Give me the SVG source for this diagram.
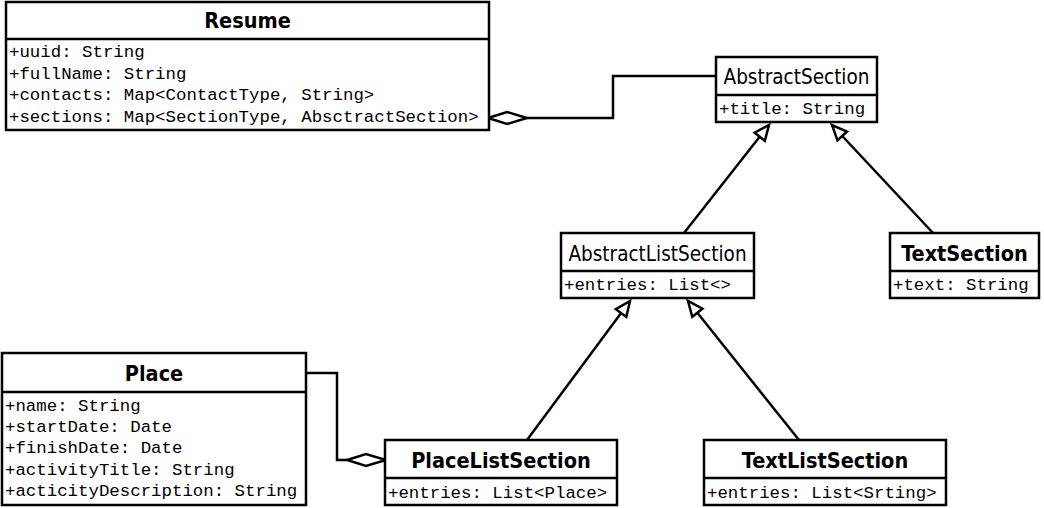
<svg xmlns="http://www.w3.org/2000/svg" width="1044" height="508" viewBox="0 0 1044 508">
<defs>
<style>
.box{fill:#fff;stroke:#000;stroke-width:2.5}
.div{stroke:#000;stroke-width:2.5}
.t{font-family:"DejaVu Sans Condensed","DejaVu Sans",sans-serif;font-stretch:condensed;font-size:20.5px;text-anchor:middle;fill:#000}
.b{font-weight:bold;font-size:21.5px}
.a{font-family:"Liberation Mono","Courier New",monospace;font-size:17.4px;fill:#000}
.c{fill:none;stroke:#000;stroke-width:2.5}
</style>
<marker id="tri" markerWidth="22" markerHeight="18" refX="18" refY="9" orient="auto" markerUnits="userSpaceOnUse" viewBox="0 0 22 18">
<path d="M18,9 L3,2.5 L3,15.5 Z" fill="#fff" stroke="#000" stroke-width="2.5"/>
</marker>
</defs>
<g id="connectors">
<polyline class="c" points="527,118 613,118 613,76 716,76"/>
<path d="M488,118 L507,112 L527,118 L507,124 Z" fill="#fff" stroke="#000" stroke-width="2.5"/>
<polyline class="c" points="306,373 337,373 337,460 347,460"/>
<path d="M347,460 L366,454 L386,460 L366,466 Z" fill="#fff" stroke="#000" stroke-width="2.5"/>
<line class="c" x1="684" y1="233" x2="769" y2="125" marker-end="url(#tri)"/>
<line class="c" x1="933" y1="233" x2="832" y2="125" marker-end="url(#tri)"/>
<line class="c" x1="527" y1="440" x2="630" y2="301" marker-end="url(#tri)"/>
<line class="c" x1="799" y1="440" x2="688" y2="301" marker-end="url(#tri)"/>
</g>
<g id="Resume">
<rect class="box" x="6" y="2" width="483" height="128"/>
<line class="div" x1="6" y1="39" x2="489" y2="39"/>
<text class="t b" x="247.5" y="28">Resume</text>
<text class="a" x="9" y="57">+uuid: String</text>
<text class="a" x="9" y="79">+fullName: String</text>
<text class="a" x="9" y="100">+contacts: Map&lt;ContactType, String&gt;</text>
<text class="a" x="9" y="122">+sections: Map&lt;SectionType, AbsctractSection&gt;</text>
</g>
<g id="AbstractSection">
<rect class="box" x="716" y="57" width="161" height="65"/>
<line class="div" x1="716" y1="95" x2="877" y2="95"/>
<text class="t" x="796.5" y="84">AbstractSection</text>
<text class="a" x="719" y="114">+title: String</text>
</g>
<g id="AbstractListSection">
<rect class="box" x="561" y="233" width="193" height="65"/>
<line class="div" x1="561" y1="271" x2="754" y2="271"/>
<text class="t" x="657.5" y="261">AbstractListSection</text>
<text class="a" x="564" y="290">+entries: List&lt;&gt;</text>
</g>
<g id="TextSection">
<rect class="box" x="890" y="233" width="149" height="65"/>
<line class="div" x1="890" y1="271" x2="1039" y2="271"/>
<text class="t b" x="964.5" y="261">TextSection</text>
<text class="a" x="893" y="290">+text: String</text>
</g>
<g id="Place">
<rect class="box" x="2" y="353" width="304" height="152"/>
<line class="div" x1="2" y1="392" x2="306" y2="392"/>
<text class="t b" x="154" y="381">Place</text>
<text class="a" x="5" y="411">+name: String</text>
<text class="a" x="5" y="432">+startDate: Date</text>
<text class="a" x="5" y="453">+finishDate: Date</text>
<text class="a" x="5" y="475">+activityTitle: String</text>
<text class="a" x="5" y="496">+acticityDescription: String</text>
</g>
<g id="PlaceListSection">
<rect class="box" x="385" y="440" width="232" height="65"/>
<line class="div" x1="385" y1="478" x2="617" y2="478"/>
<text class="t b" x="501" y="468">PlaceListSection</text>
<text class="a" x="388" y="498">+entries: List&lt;Place&gt;</text>
</g>
<g id="TextListSection">
<rect class="box" x="704" y="440" width="242" height="65"/>
<line class="div" x1="704" y1="478" x2="946" y2="478"/>
<text class="t b" x="825" y="468">TextListSection</text>
<text class="a" x="707" y="498">+entries: List&lt;Srting&gt;</text>
</g>
</svg>
